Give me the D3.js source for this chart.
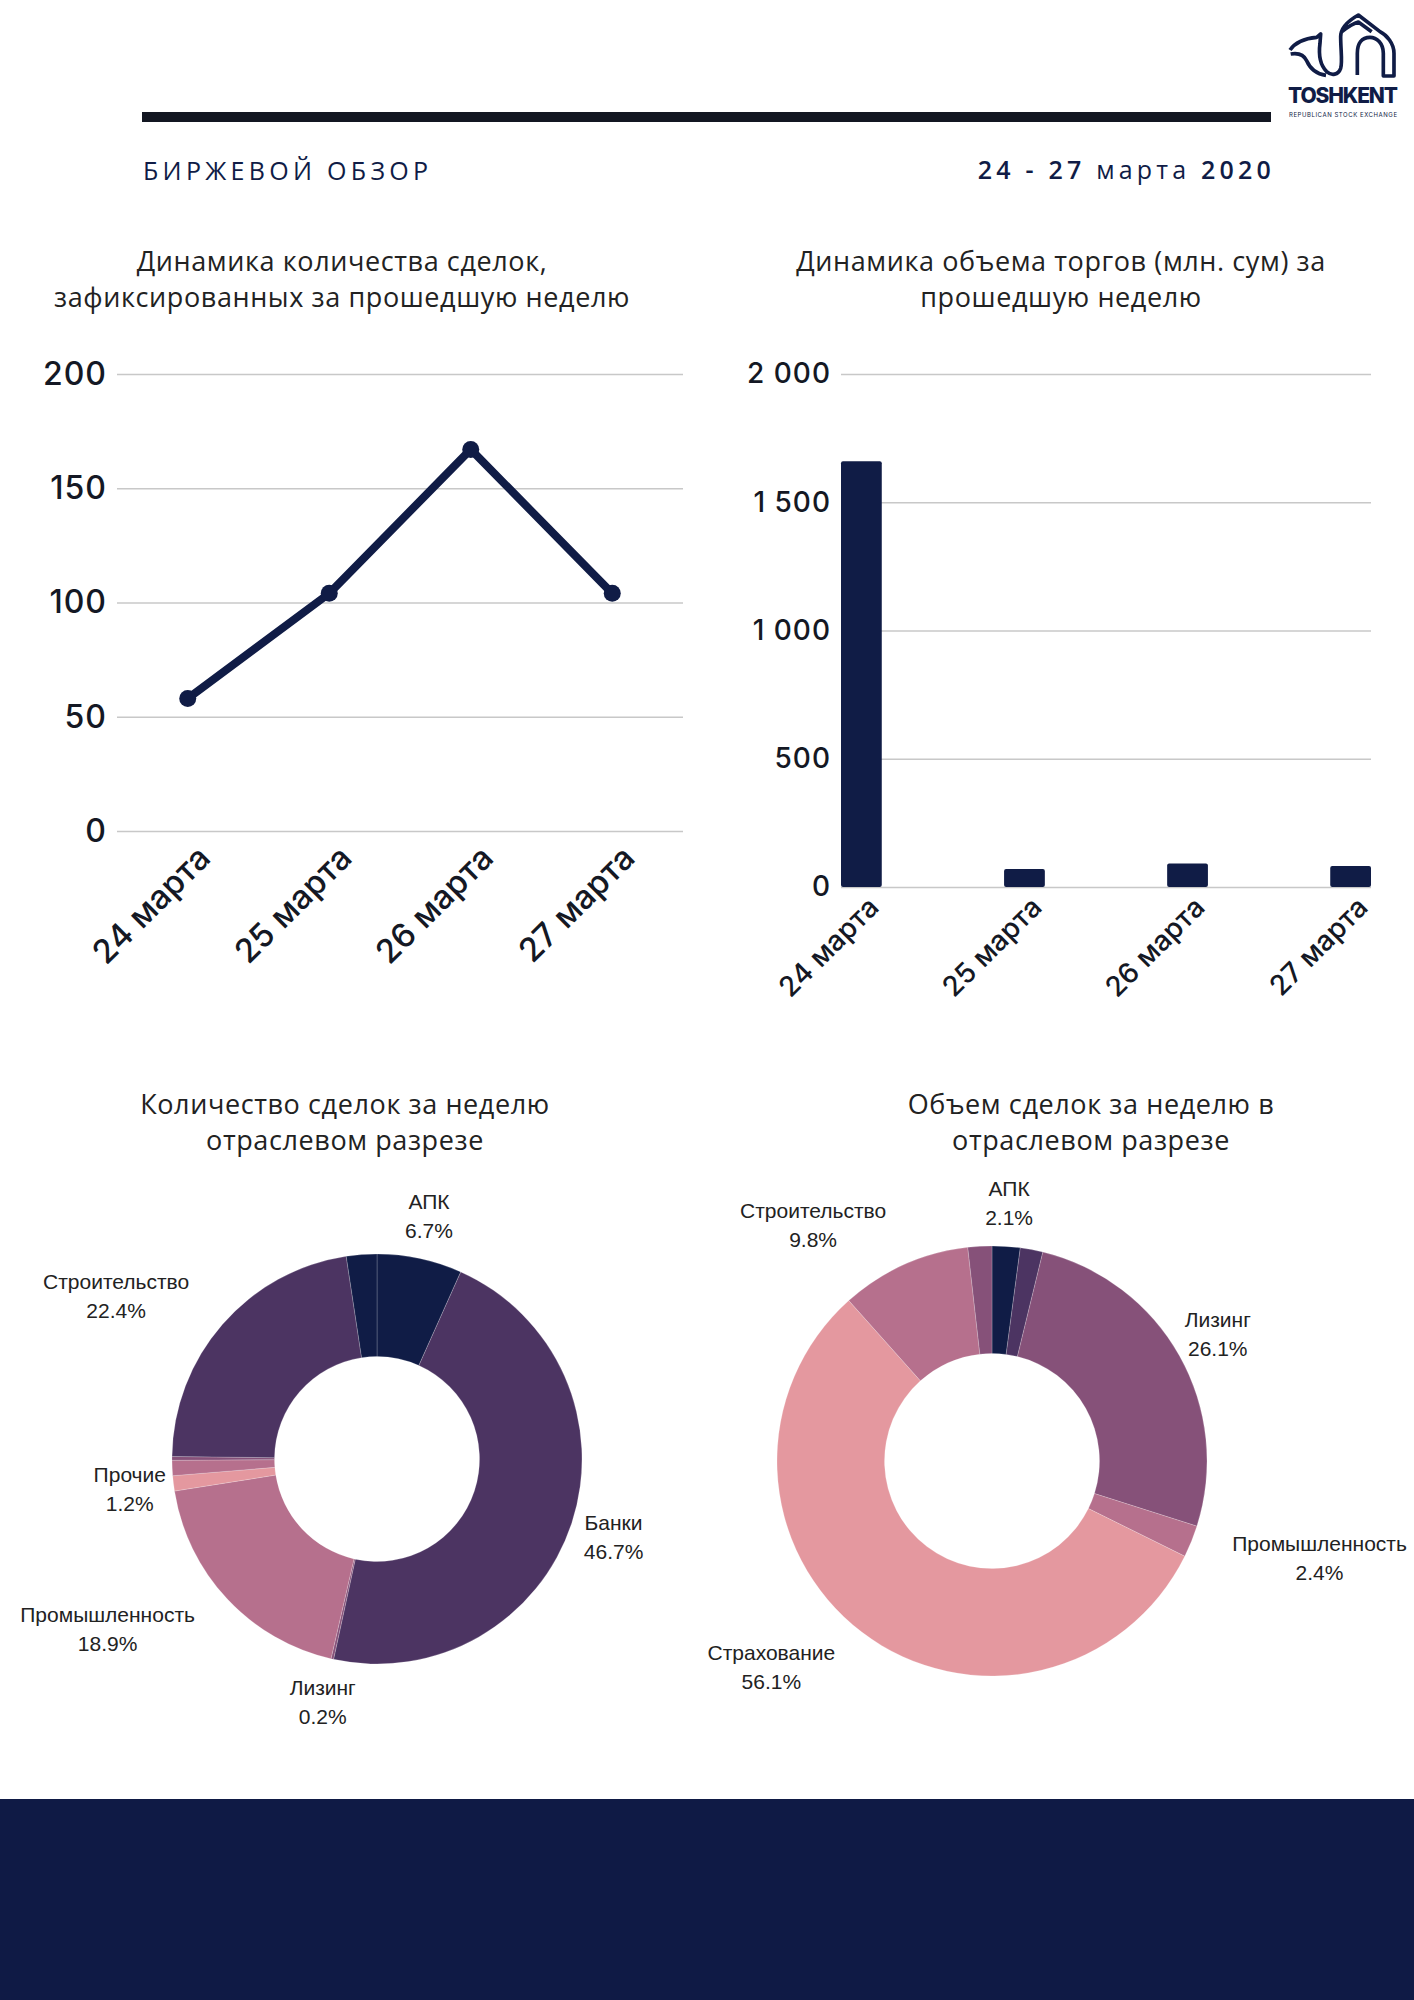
<!DOCTYPE html>
<html lang="ru">
    <head>
        <meta charset="utf-8">
        <title>Биржевой обзор</title>
        <script src="https://d3js.org/d3.v7.min.js"></script>
        <style type="text/css">
            body { margin: 0; background: #fff; }

            .head { font-family: "Open Sans", sans-serif; fill: #101c46; }
            .title { font-family: "Open Sans", sans-serif; font-size: 27px; letter-spacing: 0.6px; fill: #222; }

            .axis text { font-family: Inter, sans-serif; font-weight: 500; fill: #141824; }
            .axis .domain { display: none; }
            .grid line { stroke: #c8c8c8; stroke-width: 1.5px; }

            .line1 { fill: none; stroke: #101c46; stroke-width: 8px; stroke-linejoin: round; }

            .slice-label { font-family: "Liberation Sans", Arial, sans-serif; font-size: 21px; fill: #222; }
        </style>
    </head>
    <body>
        <script type="text/javascript">

            //page
            const w = 1414;
            const h = 2000;

            //colours
            const navy = "#101c46";
            const darkPurple = "#4c3462";
            const purple = "#865179";
            const mauve = "#b6708d";
            const pink = "#e4989f";

            //data - dynamics for the week
            const days = ["24 марта", "25 марта", "26 марта", "27 марта"];
            const dealCounts = [58, 104, 167, 104];
            const tradeVolume = [1660, 70, 92, 82];      //млн. сум
            const countTicks = [0, 50, 100, 150, 200];
            const volumeTicks = [0, 500, 1000, 1500, 2000];

            //data - sectors (null = slice has no label in the original)
            const countSectors = ["АПК", "Банки", "Лизинг", "Промышленность", "Прочие", null, null, "Строительство", null];
            const countShares = [6.7, 46.7, 0.2, 18.9, 1.2, 1.2, 0.3, 22.4, 2.4];
            const volumeSectors = ["АПК", null, "Лизинг", "Промышленность", "Страхование", "Строительство", null];
            const volumeShares = [2.1, 1.7, 26.1, 2.4, 56.1, 9.8, 1.8];
            const sectorColors = [navy, darkPurple, purple, mauve, pink, mauve, purple, darkPurple, navy];

            const svg = d3.select("body")
                    .append("svg")
                    .attr("width", w)
                    .attr("height", h);

            //----- header -----
            svg.append("rect")
               .attr("x", 142).attr("y", 112)
               .attr("width", 1271 - 142).attr("height", 10)
               .attr("fill", "#131722");

            svg.append("text")
               .attr("class", "head")
               .attr("x", 143).attr("y", 180)
               .style("font-size", "25px")
               .style("letter-spacing", "4.3px")
               .text("БИРЖЕВОЙ ОБЗОР");

            const dateText = svg.append("text")
               .attr("class", "head")
               .attr("x", 1275).attr("y", 179)
               .attr("text-anchor", "end")
               .style("font-size", "25px")
               .style("letter-spacing", "4.2px");
            dateText.append("tspan").style("font-weight", 600).text("24 - 27");
            dateText.append("tspan").text(" марта ");
            dateText.append("tspan").style("font-weight", 600).text("2020");

            //logo
            const logo = svg.append("g").attr("transform", "translate(1270,0) scale(0.3333)");
            logo.append("path")
                .attr("d", "M60,150 C75,128 105,115 140,112 L152,102 L150,130 C146,160 150,195 170,215 C185,228 205,225 212,205 C218,185 212,150 212,110 C212,85 230,65 265,45 L330,95 C350,105 372,130 372,160 L372,228 L340,228 L340,160 C340,130 320,112 300,112 C275,112 262,130 262,160 L262,225 M62,162 C85,158 102,165 110,182 C120,205 140,222 168,226 M215,95 C235,80 250,70 265,66 L305,95")
                .attr("fill", "none")
                .attr("stroke", navy)
                .attr("stroke-width", 11)
                .attr("stroke-linejoin", "round");
            svg.append("text")
               .attr("x", 1288).attr("y", 103)
               .attr("textLength", 110)
               .style("font-family", "Inter, sans-serif")
               .style("font-weight", 800)
               .style("font-size", "21px")
               .attr("fill", navy)
               .text("TOSHKENT");
            svg.append("text")
               .attr("x", 1289).attr("y", 117)
               .attr("textLength", 108)
               .style("font-family", "Inter, sans-serif")
               .style("font-size", "6px")
               .attr("fill", navy)
               .text("REPUBLICAN STOCK EXCHANGE");

            //bottom band
            svg.append("rect")
               .attr("x", 0).attr("y", 1799)
               .attr("width", w).attr("height", h - 1799)
               .attr("fill", "#0f1a45");

            //titles
            function title(x, y, lines) {
                const t = svg.append("text")
                             .attr("class", "title")
                             .attr("text-anchor", "middle");
                lines.forEach((s, i) => {
                    t.append("tspan").attr("x", x).attr("y", y + i * 36).text(s);
                });
            }
            title(342, 271, ["Динамика количества сделок,", "зафиксированных за прошедшую неделю"]);
            title(1061, 271, ["Динамика объема торгов (млн. сум) за", "прошедшую неделю"]);
            title(345, 1114, ["Количество сделок за неделю", "отраслевом разрезе"]);
            title(1091, 1114, ["Объем сделок за неделю в", "отраслевом разрезе"]);

            //----- line chart -----
            const lineData = days.map((d, i) => ({day: d, value: dealCounts[i]}));

            const xLine = d3.scalePoint()
                            .domain(days)
                            .range([117, 683])
                            .padding(0.5);

            const yLine = d3.scaleLinear()
                            .domain([0, 200])
                            .range([831, 374]);

            svg.append("g")
               .attr("class", "axis grid")
               .attr("transform", "translate(117,0)")
               .call(d3.axisLeft(yLine).tickValues(countTicks).tickSize(-(683 - 117)).tickPadding(10))
               .selectAll("text")
               .style("font-size", "32px")
               .style("letter-spacing", "1px");

            svg.append("g")
               .attr("class", "axis")
               .attr("transform", "translate(0,831)")
               .call(d3.axisBottom(xLine).tickSize(0))
               .selectAll("text")
               .attr("y", 0).attr("dy", 0)
               .attr("text-anchor", "end")
               .attr("transform", "translate(24,29) rotate(-45)")
               .style("font-size", "33px");

            const line1 = d3.line()
                            .x(d => xLine(d.day))
                            .y(d => yLine(d.value));

            svg.append("path")
               .data([lineData])
               .attr("d", line1)
               .attr("class", "line1");

            svg.selectAll(".dot")
               .data(lineData)
               .enter()
               .append("circle")
               .attr("cx", d => xLine(d.day))
               .attr("cy", d => yLine(d.value))
               .attr("r", 8.5)
               .attr("fill", navy);

            //----- bar chart -----
            const barData = days.map((d, i) => ({day: d, value: tradeVolume[i]}));
            const ru = d3.formatLocale({decimal: ",", thousands: "\u00a0", grouping: [3], currency: ["", ""]});

            const xBar = d3.scaleBand()
                           .domain(days)
                           .range([841, 1371])
                           .paddingInner(0.75)
                           .paddingOuter(0);

            const yBar = d3.scaleLinear()
                           .domain([0, 2000])
                           .range([887, 374]);

            svg.append("g")
               .attr("class", "axis grid")
               .attr("transform", "translate(841,0)")
               .call(d3.axisLeft(yBar).tickValues(volumeTicks).tickSize(-(1371 - 841)).tickPadding(10).tickFormat(ru.format(",")))
               .selectAll("text")
               .style("font-size", "28px")
               .style("letter-spacing", "1px");

            svg.selectAll(".bar")
               .data(barData)
               .enter()
               .append("rect")
               .attr("x", d => xBar(d.day))
               .attr("y", d => yBar(d.value))
               .attr("width", xBar.bandwidth())
               .attr("height", d => yBar(0) - yBar(d.value))
               .attr("rx", 2)
               .attr("fill", navy);

            svg.append("g")
               .attr("class", "axis")
               .attr("transform", "translate(0,887)")
               .call(d3.axisBottom(xBar).tickSize(0))
               .selectAll("text")
               .attr("y", 0).attr("dy", 0)
               .attr("text-anchor", "end")
               .attr("transform", "translate(19,22) rotate(-45)")
               .style("font-size", "28px");

            //----- donuts -----
            function donut(cx, cy, R, names, shares) {
                const items = names.map((n, i) => ({name: n, value: shares[i], color: sectorColors[i]}));
                const pie = d3.pie().sort(null).value(d => d.value);
                const arc = d3.arc().innerRadius(R * 0.5).outerRadius(R);
                const arcs = pie(items);

                const g = svg.append("g").attr("transform", `translate(${cx},${cy})`);

                g.selectAll("path")
                 .data(arcs)
                 .enter()
                 .append("path")
                 .attr("d", arc)
                 .attr("fill", d => d.data.color)
                 .attr("stroke", "#fff")
                 .attr("stroke-width", 0.4)
                 .attr("stroke-opacity", 0.5);

                //labels: centred on the bisector outside the ring;
                //if the text box would cut into the ring it is hung off that point instead
                arcs.filter(d => d.data.name).forEach(d => {
                    const a = (d.startAngle + d.endAngle) / 2;
                    const r0 = R + 44;
                    let lx = r0 * Math.sin(a);
                    const ly = -r0 * Math.cos(a);

                    const t = g.append("text")
                               .attr("class", "slice-label")
                               .attr("text-anchor", "middle");
                    const l1 = t.append("tspan").text(d.data.name);
                    const l2 = t.append("tspan").text(d3.format(".1f")(d.data.value) + "%");

                    const hw = Math.max(l1.node().getComputedTextLength(), l2.node().getComputedTextLength()) / 2;
                    const hh = 24;
                    const gap = Math.hypot(Math.max(Math.abs(lx) - hw, 0), Math.max(Math.abs(ly) - hh, 0));
                    if (gap < R) lx += (Math.sin(a) < 0 ? -1 : 1) * hw;

                    l1.attr("x", lx).attr("y", ly - 7);
                    l2.attr("x", lx).attr("y", ly + 22);
                });
            }

            donut(377, 1459, 205, countSectors, countShares);
            donut(992, 1461, 215, volumeSectors, volumeShares);

        </script>
    </body>
</html>
